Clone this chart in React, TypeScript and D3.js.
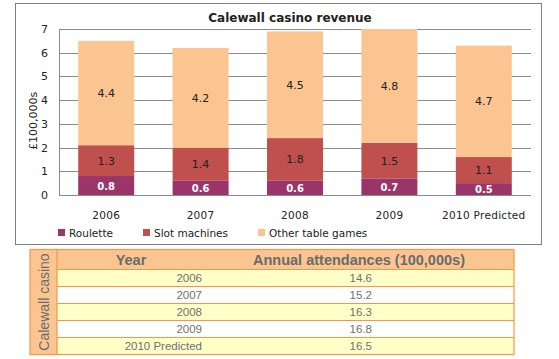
import React from "react";
import * as d3 from "d3";

const categories = ["2006", "2007", "2008", "2009", "2010 Predicted"];
const roulette = [0.8, 0.6, 0.6, 0.7, 0.5];
const slotMachines = [1.3, 1.4, 1.8, 1.5, 1.1];
const otherTableGames = [4.4, 4.2, 4.5, 4.8, 4.7];
const seriesNames = ["Roulette", "Slot machines", "Other table games"];
const yTicks = [0, 1, 2, 3, 4, 5, 6, 7];
const tableYears = ["2006", "2007", "2008", "2009", "2010 Predicted"];
const attendances = ["14.6", "15.2", "16.3", "16.8", "16.5"];

const colors = ["#9b3469", "#c0504d", "#fbc592"];
const chartFont = "'DejaVu Sans', Verdana, sans-serif";
const tableFont = "'Liberation Sans', Arial, sans-serif";

export default function App() {
  const W = 559, H = 359;
  const plot = { left: 59, right: 531, top: 29, bottom: 195 };
  const x = d3.scaleBand<string>().domain(categories).range([plot.left, plot.right]).paddingInner(0.407).paddingOuter(0.2035);
  const y = d3.scaleLinear().domain([0, 7]).range([plot.bottom, plot.top]);

  const rows = categories.map((c, i) => ({ cat: c, r: roulette[i], s: slotMachines[i], o: otherTableGames[i] }));
  const stack = d3.stack<any>().keys(["r", "s", "o"])(rows);

  const tbl = { left: 30, right: 514, top: 249.5, headerH: 20, rowH: 17, labelW: 27 };
  const tblBottom = tbl.top + tbl.headerH + tbl.rowH * tableYears.length;

  return (
    <svg width={W} height={H} style={{ position: "absolute", left: 0, top: 0, background: "#fff" }}>
      <rect x={15.5} y={3.5} width={526} height={241} fill="#fff" stroke="#7f7f7f" strokeWidth={1} />
      <text x={290} y={22} textAnchor="middle" fontFamily={chartFont} fontWeight="bold" fontSize={12} fill="#222">Calewall casino revenue</text>

      {yTicks.map((t) => (
        <g key={t}>
          <line x1={plot.left} x2={plot.right} y1={Math.round(y(t)) + 0.5} y2={Math.round(y(t)) + 0.5} stroke="#8c8c8c" strokeWidth={1} />
          <text x={48} y={y(t) + 4} textAnchor="end" fontFamily={chartFont} fontSize={11} fill="#222">{t}</text>
        </g>
      ))}
      <line x1={plot.left + 0.5} x2={plot.left + 0.5} y1={plot.top} y2={plot.bottom} stroke="#8c8c8c" strokeWidth={1} />
      <text transform={`translate(37,121) rotate(-90)`} textAnchor="middle" fontFamily={chartFont} fontSize={11} fill="#222">£100,000s</text>

      {stack.map((layer, li) => (
        <g key={li}>
          {layer.map((d: any, i: number) => {
            const y0 = y(d[0]), y1 = y(d[1]);
            const val = [roulette, slotMachines, otherTableGames][li][i];
            return (
              <g key={i}>
                <rect x={x(categories[i])} y={y1} width={x.bandwidth()} height={y0 - y1} fill={colors[li]} />
                <text x={(x(categories[i]) as number) + x.bandwidth() / 2} y={(y0 + y1) / 2 + 4} textAnchor="middle"
                  fontFamily={chartFont} fontSize={li === 0 ? 10 : 11} fontWeight={li === 0 ? "bold" : "normal"}
                  fill={li === 0 ? "#fff" : "#222"}>{val.toFixed(1)}</text>
              </g>
            );
          })}
        </g>
      ))}

      {categories.map((c) => (
        <text key={c} x={(x(c) as number) + x.bandwidth() / 2} y={219} textAnchor="middle" fontFamily={chartFont} fontSize={10.5} fill="#222" letterSpacing={0.3}>{c}</text>
      ))}

      {seriesNames.map((n, i) => {
        const lx = [58, 143, 258][i];
        return (
          <g key={n}>
            <rect x={lx} y={229} width={7} height={7} fill={colors[i]} />
            <text x={lx + 11} y={237} fontFamily={chartFont} fontSize={10.5} fill="#222">{n}</text>
          </g>
        );
      })}

      {/* table */}
      <rect x={tbl.left} y={tbl.top} width={tbl.right - tbl.left} height={tblBottom - tbl.top} fill="#fbc592" />
      <rect x={tbl.left + tbl.labelW} y={tbl.top} width={tbl.right - tbl.left - tbl.labelW} height={tbl.headerH} fill="#fbc592" />
      {tableYears.map((yr, i) => {
        const ry = tbl.top + tbl.headerH + i * tbl.rowH;
        return (
          <g key={yr}>
            <rect x={tbl.left + tbl.labelW} y={ry} width={tbl.right - tbl.left - tbl.labelW} height={tbl.rowH} fill={i % 2 === 0 ? "#ffffc8" : "#ffffff"} />
            <line x1={tbl.left + tbl.labelW} x2={tbl.right} y1={ry} y2={ry} stroke="#f79646" strokeWidth={1} />
            <text x={202} y={ry + 12.5} textAnchor="end" fontFamily={tableFont} fontSize={11.5} fill="#707070">{yr}</text>
            <text x={372} y={ry + 12.5} textAnchor="end" fontFamily={tableFont} fontSize={11.5} fill="#707070">{attendances[i]}</text>
          </g>
        );
      })}
      <rect x={tbl.left} y={tbl.top} width={tbl.right - tbl.left} height={tblBottom - tbl.top} fill="none" stroke="#f79646" strokeWidth={1.2} />
      <line x1={tbl.left + tbl.labelW} x2={tbl.left + tbl.labelW} y1={tbl.top} y2={tblBottom} stroke="#f79646" strokeWidth={1.2} />
      <text x={131} y={tbl.top + 15.5} textAnchor="middle" fontFamily={tableFont} fontWeight="bold" fontSize={14.5} fill="#6b6b6b">Year</text>
      <text x={359} y={tbl.top + 15.5} textAnchor="middle" fontFamily={tableFont} fontWeight="bold" fontSize={14.5} fill="#6b6b6b">Annual attendances (100,000s)</text>
      <text transform={`translate(48.5,${(tbl.top + tblBottom) / 2}) rotate(-90)`} textAnchor="middle" fontFamily={tableFont} fontSize={14} fill="#6b6b6b">Calewall casino</text>
    </svg>
  );
}
